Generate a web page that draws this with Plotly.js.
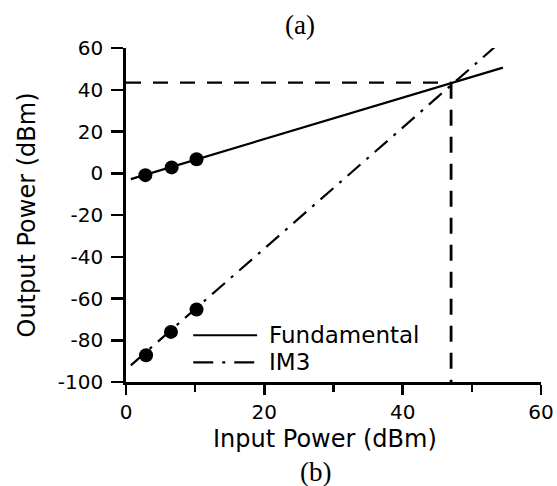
<!DOCTYPE html>
<html>
<head>
<meta charset="utf-8">
<script src="https://cdn.plot.ly/plotly-3.0.1.min.js"></script>
<style>
html,body{margin:0;padding:0;background:#fff;}
#chart{width:557px;height:486px;}
</style>
</head>
<body>
<div id="chart"></div>
<script>
// Measured points
const fundInput = [2.8, 6.6, 10.2];
const fundOutput = [-0.9, 2.8, 6.7];
const im3Input = [2.9, 6.5, 10.2];
const im3Output = [-87.2, -76.0, -65.3];

// Fitted lines as drawn
const fundLineX = [0.7, 54.5];
const fundLineY = [-2.8, 50.6];
const im3LineX = [0.7, 53.5];
const im3LineY = [-92.0, 61.0];

// Intercept point
const interceptX = [47.0];
const interceptY = [43.4];

const xTicks = [0, 20, 40, 60];
const yTicks = [-100, -80, -60, -40, -20, 0, 20, 40, 60];

const black = '#000000';
const traces = [
  {x: fundLineX, y: fundLineY, mode: 'lines', name: 'Fundamental',
   line: {color: black, width: 2.2}, showlegend: false},
  {x: im3LineX, y: im3LineY, mode: 'lines', name: 'IM3',
   line: {color: black, width: 2.2, dash: '17px,8px,3px,8px'}, showlegend: false},
  {x: fundInput, y: fundOutput, mode: 'markers', name: 'Fundamental data',
   marker: {color: black, size: 14, symbol: 'circle'}, showlegend: false},
  {x: im3Input, y: im3Output, mode: 'markers', name: 'IM3 data',
   marker: {color: black, size: 14, symbol: 'circle'}, showlegend: false},
  {x: [0, interceptX[0]], y: [interceptY[0], interceptY[0]], mode: 'lines', name: 'OIP3',
   line: {color: black, width: 2.4, dash: '15px,12px'}, showlegend: false},
  {x: [interceptX[0], interceptX[0]], y: [interceptY[0], yTicks[0]], mode: 'lines', name: 'IIP3',
   line: {color: black, width: 2.8, dash: '16px,11px'}, showlegend: false}
];

const tickFont = {family: 'DejaVu Sans, sans-serif', size: 20, color: black};
const layout = {
  width: 557, height: 486,
  margin: {l: 126, r: 16, t: 48, b: 104, pad: 0},
  paper_bgcolor: '#fff', plot_bgcolor: '#fff',
  showlegend: false,
  xaxis: {
    range: [0, 60], tickvals: xTicks, ticktext: xTicks.map(String),
    showgrid: false, zeroline: false, showline: true, linecolor: black, linewidth: 2.5,
    ticks: 'outside', ticklen: 10, tickwidth: 2.5, tickcolor: black,
    minor: {tickvals: [10, 30, 50], ticks: 'outside', ticklen: 7, tickwidth: 2.5, tickcolor: black},
    tickfont: tickFont, ticklabelstandoff: 0
  },
  yaxis: {
    range: [-100, 60], tickvals: yTicks, ticktext: yTicks.map(String),
    showgrid: false, zeroline: false, showline: true, linecolor: black, linewidth: 2.8,
    ticks: 'outside', ticklen: 12, tickwidth: 2.5, tickcolor: black,
    tickfont: tickFont, ticklabelstandoff: 4,
    title: {text: 'Output Power (dBm)', font: {family: 'DejaVu Sans, sans-serif', size: 24, color: black}, standoff: 16}
  },
  shapes: [
    {type: 'line', xref: 'paper', yref: 'paper', x0: 0.162, x1: 0.316, y0: 0.14, y1: 0.14,
     line: {color: black, width: 2.2}},
    {type: 'line', xref: 'paper', yref: 'paper', x0: 0.162, x1: 0.316, y0: 0.059, y1: 0.059,
     line: {color: black, width: 2.2, dash: '20px,9px,3px,9px'}}
  ],
  annotations: [
    {text: 'Input Power (dBm)', xref: 'paper', yref: 'paper', x: 0.48, y: -0.172, xanchor: 'center', yanchor: 'middle',
     showarrow: false, font: {family: 'DejaVu Sans, sans-serif', size: 24, color: black}},
    {text: 'Fundamental', xref: 'paper', yref: 'paper', x: 0.34, y: 0.14, xanchor: 'left', yanchor: 'middle',
     showarrow: false, font: {family: 'DejaVu Sans, sans-serif', size: 23, color: black}},
    {text: 'IM3', xref: 'paper', yref: 'paper', x: 0.34, y: 0.059, xanchor: 'left', yanchor: 'middle',
     showarrow: false, font: {family: 'DejaVu Sans, sans-serif', size: 23, color: black}},
    {text: '(a)', xref: 'paper', yref: 'paper', x: 0.42, y: 1.069, xanchor: 'center', yanchor: 'middle',
     showarrow: false, font: {family: 'Liberation Serif, Times New Roman, serif', size: 27, color: black}},
    {text: '(b)', xref: 'paper', yref: 'paper', x: 0.456, y: -0.268, xanchor: 'center', yanchor: 'middle',
     showarrow: false, font: {family: 'Liberation Serif, Times New Roman, serif', size: 27, color: black}}
  ]
};

Plotly.newPlot('chart', traces, layout, {displayModeBar: false, staticPlot: true});
</script>
</body>
</html>
